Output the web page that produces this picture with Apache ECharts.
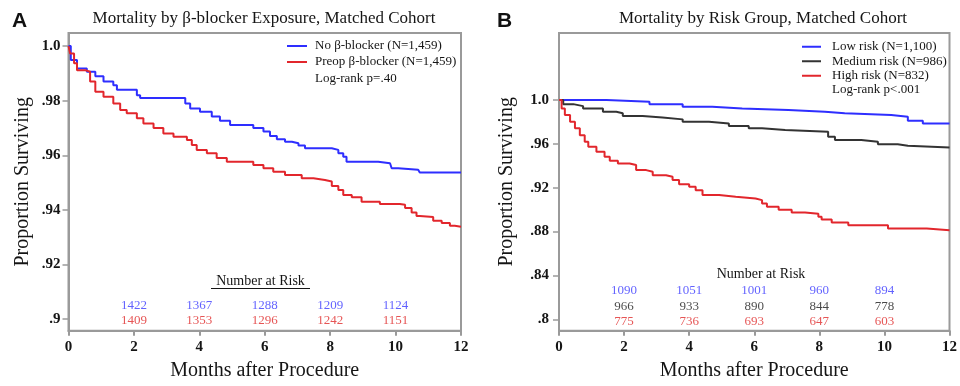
<!DOCTYPE html>
<html>
<head>
<meta charset="utf-8">
<script src="https://cdn.jsdelivr.net/npm/echarts@6/dist/echarts.min.js"></script>
<style>
html,body{margin:0;padding:0;background:#fff;}
#chart{width:960px;height:386px;}
</style>
</head>
<body>
<div id="chart"></div>
<script>
// ---------- data ----------
const xTicks = [0, 2, 4, 6, 8, 10, 12];
const yTicksA = [0.9, 0.92, 0.94, 0.96, 0.98, 1.0];
const yTicksB = [0.8, 0.84, 0.88, 0.92, 0.96, 1.0];
const riskMonths = [2, 4, 6, 8, 10];

const nameNoBB = 'No β-blocker (N=1,459)';
const namePreop = 'Preop β-blocker (N=1,459)';
const nameLow = 'Low risk (N=1,100)';
const nameMed = 'Medium risk (N=986)';
const nameHigh = 'High risk (N=832)';

const riskNoBB = [1422, 1367, 1288, 1209, 1124];
const riskPreop = [1409, 1353, 1296, 1242, 1151];
const riskLow = [1090, 1051, 1001, 960, 894];
const riskMed = [966, 933, 890, 844, 778];
const riskHigh = [775, 736, 693, 647, 603];

// Kaplan-Meier steps: [month, survival]
const survNoBB = [[0,1.0],[0.07,0.9949],[0.26,0.9918],[0.56,0.9906],[0.82,0.989],[1.07,0.987],[1.37,0.9857],[1.48,0.984],[2.09,0.982],[2.19,0.981],[3.57,0.979],[3.72,0.9772],[4.02,0.976],[4.38,0.9742],[4.63,0.9727],[4.94,0.9711],[5.65,0.970],[5.96,0.9687],[6.16,0.9671],[6.37,0.9659],[6.62,0.965],[6.83,0.9644],[7.03,0.9636],[7.23,0.9626],[8.05,0.962],[8.25,0.9608],[8.4,0.9595],[8.5,0.9577],[9.47,0.9571],[9.83,0.9565],[9.88,0.9553],[10.08,0.9547],[10.69,0.954],[10.74,0.9537],[12,0.9537]];
const survPreop = [[0,1.0],[0.05,0.9973],[0.17,0.9937],[0.26,0.9912],[0.51,0.9906],[0.66,0.987],[0.82,0.9833],[1.07,0.9815],[1.37,0.979],[1.58,0.9766],[1.78,0.9754],[2.09,0.9736],[2.29,0.9717],[2.6,0.970],[2.9,0.968],[3.21,0.9668],[3.62,0.9656],[3.77,0.9638],[3.92,0.962],[4.23,0.9608],[4.53,0.959],[4.84,0.9577],[5.65,0.9565],[5.96,0.9553],[6.26,0.954],[6.62,0.9528],[7.13,0.9516],[7.49,0.951],[7.84,0.9504],[8.05,0.9488],[8.25,0.9473],[8.4,0.9455],[8.66,0.9447],[8.96,0.943],[9.52,0.9422],[10.13,0.9419],[10.29,0.9407],[10.49,0.9391],[10.64,0.9378],[10.74,0.9374],[11.15,0.9361],[11.41,0.9352],[11.66,0.9342],[11.81,0.9339],[12,0.9339]];
const survLow = [[0,1.0],[1.46,0.9985],[2.78,0.9963],[3.8,0.9939],[4.71,0.9924],[5.63,0.9909],[7.05,0.9893],[8.17,0.9879],[8.78,0.9863],[10.21,0.9848],[10.72,0.9811],[11.18,0.9787],[12,0.9787]];
const survMed = [[0,1.0],[0.13,0.9963],[0.44,0.9945],[0.74,0.9924],[1.35,0.9893],[1.76,0.9879],[1.96,0.9854],[2.57,0.9842],[3.18,0.9824],[3.8,0.9802],[4.61,0.9787],[5.22,0.9763],[5.83,0.9742],[6.24,0.9726],[6.95,0.9711],[8.27,0.9665],[8.48,0.9635],[9.29,0.9619],[9.8,0.9598],[10.41,0.9583],[10.72,0.9568],[12,0.9565]];
const survHigh = [[0,1.0],[0.08,0.9924],[0.18,0.9863],[0.34,0.9802],[0.49,0.9742],[0.64,0.968],[0.79,0.9619],[0.9,0.9574],[1.15,0.9528],[1.4,0.9482],[1.56,0.9446],[1.81,0.9422],[2.17,0.9407],[2.37,0.9361],[2.68,0.9346],[2.88,0.9315],[3.29,0.930],[3.49,0.927],[3.69,0.9233],[4.0,0.9209],[4.2,0.9178],[4.41,0.9133],[4.92,0.9117],[5.43,0.9102],[6.04,0.9087],[6.24,0.9057],[6.39,0.9026],[6.75,0.9],[7.15,0.8975],[7.56,0.8962],[7.97,0.8935],[8.07,0.8911],[8.38,0.8883],[8.89,0.8859],[10.11,0.8828],[11.23,0.8828],[11.3,0.8813],[12,0.8811]];

// ---------- style ----------
const SERIF = '"Liberation Serif", "DejaVu Serif", serif';
const BLUE = '#2e2eff';
const RED = '#e2262c';
const BLACK = '#333333';
const GRAY = '#9a9a9a';
const TXT = '#151515';

function yFmt(v) {
  if (Math.abs(v - 1) < 1e-9) return '1.0';
  return String(+v.toFixed(2)).replace(/^0/, '');
}

function xAxisCfg(gi) {
  return {
    gridIndex: gi, type: 'value', min: 0, max: 12, interval: 2,
    name: 'Months after Procedure', nameLocation: 'middle', nameGap: 30,
    nameTextStyle: { fontFamily: SERIF, fontSize: 20, color: TXT },
    axisLine: { show: true, lineStyle: { color: GRAY, width: 2 } },
    axisTick: { show: true, length: 5, lineStyle: { color: GRAY, width: 2 } },
    axisLabel: { fontFamily: SERIF, fontSize: 15, fontWeight: 'bold', color: TXT, margin: 9,
      customValues: xTicks },
    splitLine: { show: false }
  };
}
function yAxisCfg(gi, min, max, ticks, gap, margin) {
  return {
    gridIndex: gi, type: 'value', min: min, max: max,
    name: 'Proportion Surviving', nameLocation: 'middle', nameGap: gap,
    nameTextStyle: { fontFamily: SERIF, fontSize: 20, color: TXT },
    axisLine: { show: true, lineStyle: { color: GRAY, width: 2 } },
    axisTick: { show: true, length: 6, lineStyle: { color: GRAY, width: 1.5 }, customValues: ticks },
    axisLabel: { fontFamily: SERIF, fontSize: 15, fontWeight: 'bold', color: TXT, margin: margin,
      customValues: ticks, formatter: yFmt },
    splitLine: { show: false }
  };
}
function kmSeries(name, data, color, xi) {
  return {
    name: name, type: 'line', step: 'end', xAxisIndex: xi, yAxisIndex: xi,
    data: data, showSymbol: false, symbol: 'none', color: color,
    lineStyle: { color: color, width: 2 }, silent: true, animation: false, z: 3
  };
}
function riskSeries(id, counts, yLevel, color, xi) {
  return {
    name: id, type: 'scatter', xAxisIndex: xi, yAxisIndex: xi,
    symbolSize: 0, silent: true, animation: false, z: 4,
    data: riskMonths.map((m, i) => [m, yLevel, counts[i]]),
    label: { show: true, position: 'inside', formatter: p => String(p.value[2]),
      fontFamily: SERIF, fontSize: 13, color: color }
  };
}

const chart = echarts.init(document.getElementById('chart'), null, { renderer: 'canvas' });
chart.setOption({
  animation: false,
  backgroundColor: '#fff',
  grid: [
    { left: 68.5, top: 33, width: 392.5, height: 297.7, show: true, borderColor: GRAY, borderWidth: 2, containLabel: false },
    { left: 559, top: 33, width: 393, height: 297.7, show: true, borderColor: GRAY, borderWidth: 2, containLabel: false }
  ],
  xAxis: [xAxisCfg(0), xAxisCfg(1)],
  yAxis: [
    yAxisCfg(0, 0.8958, 1.0048, yTicksA, 36, 8),
    yAxisCfg(1, 0.7896, 1.0612, yTicksB, 42, 10)
  ],
  legend: [
    { data: [nameNoBB, namePreop], orient: 'vertical', left: 287, top: 38, padding: 0,
      itemWidth: 20, itemHeight: 2, itemGap: 0, icon: 'rect', selectedMode: false,
      textStyle: { fontFamily: SERIF, fontSize: 13, color: TXT, lineHeight: 16, padding: [0, 0, 0, 3] } },
    { data: [nameLow, nameMed, nameHigh], orient: 'vertical', left: 802, top: 39.5, padding: 0,
      itemWidth: 19, itemHeight: 2, itemGap: 0, icon: 'rect', selectedMode: false,
      textStyle: { fontFamily: SERIF, fontSize: 13, color: TXT, lineHeight: 14.5, padding: [0, 0, 0, 6] } }
  ],
  series: [
    kmSeries(nameNoBB, survNoBB, BLUE, 0),
    kmSeries(namePreop, survPreop, RED, 0),
    kmSeries(nameLow, survLow, BLUE, 1),
    kmSeries(nameMed, survMed, BLACK, 1),
    kmSeries(nameHigh, survHigh, RED, 1),
    riskSeries('riskNoBB', riskNoBB, 0.9049, '#3b3bff', 0),
    riskSeries('riskPreop', riskPreop, 0.8995, '#e02a2a', 0),
    riskSeries('riskLow', riskLow, 0.8265, '#3b3bff', 1),
    riskSeries('riskMed', riskMed, 0.8113, '#1a1a1a', 1),
    riskSeries('riskHigh', riskHigh, 0.7976, '#e02a2a', 1)
  ],
  graphic: [
    { type: 'text', left: 12, top: 11, style: { text: 'A', font: 'bold 21px "Liberation Sans", Arial, sans-serif', fill: '#111' } },
    { type: 'text', left: 497, top: 11, style: { text: 'B', font: 'bold 21px "Liberation Sans", Arial, sans-serif', fill: '#111' } },
    { type: 'text', x: 264, y: 19, style: { text: 'Mortality by β-blocker Exposure, Matched Cohort', font: '17px ' + SERIF, fill: TXT, align: 'center', verticalAlign: 'middle' } },
    { type: 'text', x: 763, y: 19, style: { text: 'Mortality by Risk Group, Matched Cohort', font: '17px ' + SERIF, fill: TXT, align: 'center', verticalAlign: 'middle' } },
    { type: 'text', x: 315, y: 78.5, style: { text: 'Log-rank p=.40', font: '13px ' + SERIF, fill: TXT, align: 'left', verticalAlign: 'middle' } },
    { type: 'text', x: 832, y: 90, style: { text: 'Log-rank p<.001', font: '13px ' + SERIF, fill: TXT, align: 'left', verticalAlign: 'middle' } },
    { type: 'text', x: 260.5, y: 281.5, style: { text: 'Number at Risk', font: '14px ' + SERIF, fill: TXT, align: 'center', verticalAlign: 'middle' } },
    { type: 'line', shape: { x1: 211, y1: 288.5, x2: 310, y2: 288.5 }, style: { stroke: TXT, lineWidth: 1 } },
    { type: 'text', x: 761, y: 274, style: { text: 'Number at Risk', font: '14px ' + SERIF, fill: TXT, align: 'center', verticalAlign: 'middle' } }
  ]
});
</script>
</body>
</html>
